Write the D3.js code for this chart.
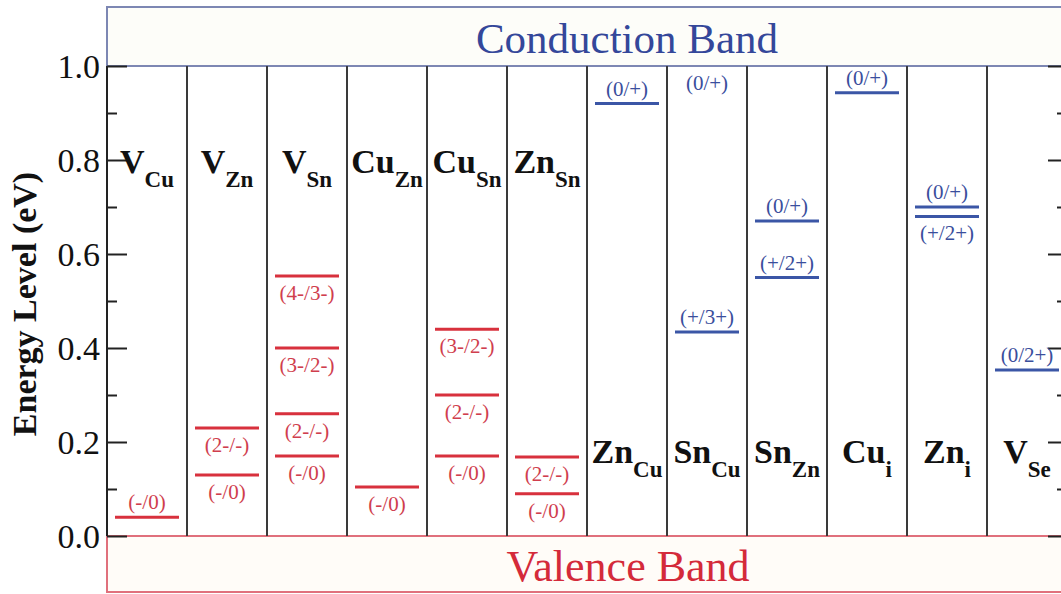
<!DOCTYPE html>
<html>
<head>
<meta charset="utf-8">
<script src="https://cdn.jsdelivr.net/npm/d3@7"></script>
<style>
  html, body { margin: 0; padding: 0; background: #ffffff; }
  svg { display: block; }
</style>
</head>
<body>
<svg id="chart" width="1061" height="594" font-family="'Liberation Serif', 'Times New Roman', 'DejaVu Serif', serif"></svg>
<script>
// ---------------- data ----------------
const defectIds   = ["V_Cu","V_Zn","V_Sn","Cu_Zn","Cu_Sn","Zn_Sn","Zn_Cu","Sn_Cu","Sn_Zn","Cu_i","Zn_i","V_Se"];
const defectMain  = ["V","V","V","Cu","Cu","Zn","Zn","Sn","Sn","Cu","Zn","V"];
const defectSub   = ["Cu","Zn","Sn","Zn","Sn","Sn","Cu","Cu","Zn","i","i","Se"];
const defectType  = ["acceptor","acceptor","acceptor","acceptor","acceptor","acceptor",
                     "donor","donor","donor","donor","donor","donor"];

const levelDefect = ["V_Cu","V_Zn","V_Zn","V_Sn","V_Sn","V_Sn","V_Sn","Cu_Zn",
                     "Cu_Sn","Cu_Sn","Cu_Sn","Zn_Sn","Zn_Sn",
                     "Zn_Cu","Sn_Cu","Sn_Cu","Sn_Zn","Sn_Zn","Cu_i","Zn_i","Zn_i","V_Se"];
const levelEnergy = [0.04, 0.23, 0.13, 0.553, 0.40, 0.26, 0.17, 0.104,
                     0.44, 0.30, 0.17, 0.168, 0.09,
                     0.92, 1.00, 0.434, 0.67, 0.55, 0.943, 0.70, 0.68, 0.353];
const levelLabel  = ["(-/0)","(2-/-)","(-/0)","(4-/3-)","(3-/2-)","(2-/-)","(-/0)","(-/0)",
                     "(3-/2-)","(2-/-)","(-/0)","(2-/-)","(-/0)",
                     "(0/+)","(0/+)","(+/3+)","(0/+)","(+/2+)","(0/+)","(0/+)","(+/2+)","(0/2+)"];
const levelSide   = ["above","below","below","below","below","below","below","below",
                     "below","below","below","below","below",
                     "above","below","above","above","above","above","above","below","above"];

const yTicksMajor = [0.0, 0.2, 0.4, 0.6, 0.8, 1.0];
const yTicksMinor = [0.1, 0.3, 0.5, 0.7, 0.9];
const yTitle = "Energy Level (eV)";
const cbLabel = "Conduction Band";
const vbLabel = "Valence Band";

// ---------------- layout ----------------
const FONT = "'Liberation Serif', 'Times New Roman', 'DejaVu Serif', serif";
const svg = d3.select("#chart");
const left = 107, colW = 80;
const yTop = 66, yBot = 536;
const right = left + colW * defectIds.length;

const x = d3.scaleBand().domain(defectIds).range([left, right]).padding(0);
const y = d3.scaleLinear().domain([0, 1]).range([yBot, yTop]);

const RED = "#d8313d", RED_TXT = "#d03e4e";
const BLUE = "#3b56a6", BLUE_TXT = "#3a4e9c";

svg.append("defs").append("clipPath").attr("id", "plotClip")
  .append("rect").attr("x", left).attr("y", yTop + 2).attr("width", right - left).attr("height", yBot - yTop - 4);

// band boxes
svg.append("rect").attr("x", left).attr("y", 7).attr("width", right - left + 20).attr("height", yTop - 7)
  .attr("fill", "#fdfdf9").attr("stroke", "#7d87b3").attr("stroke-width", 2);
svg.append("rect").attr("x", left).attr("y", yBot).attr("width", right - left + 20).attr("height", 592 - yBot)
  .attr("fill", "#fffcf8").attr("stroke", "#e0707c").attr("stroke-width", 2);

svg.append("text").attr("x", 627).attr("y", 53).attr("text-anchor", "middle").attr("font-family", FONT)
  .attr("font-size", 43).attr("fill", "#34479a").text(cbLabel);
svg.append("text").attr("x", 628).attr("y", 581).attr("text-anchor", "middle").attr("font-family", FONT)
  .attr("font-size", 44).attr("fill", "#d42a3a").text(vbLabel);

// column separators
svg.append("g").selectAll("line").data(defectIds.slice(1)).join("line")
  .attr("x1", d => x(d)).attr("x2", d => x(d))
  .attr("y1", yTop).attr("y2", yBot)
  .attr("stroke", "#3a3a3a").attr("stroke-width", 2);

// left axis
const axL = d3.axisRight(y).tickValues(yTicksMajor).tickSize(20).tickFormat("");
const gL = svg.append("g").attr("transform", `translate(${left},0)`).call(axL);
gL.select(".domain").remove();
gL.selectAll(".tick line").attr("stroke", "#222").attr("stroke-width", 2);
const axLm = d3.axisRight(y).tickValues(yTicksMinor).tickSize(10).tickFormat("");
const gLm = svg.append("g").attr("transform", `translate(${left},0)`).call(axLm);
gLm.select(".domain").remove();
gLm.selectAll(".tick line").attr("stroke", "#222").attr("stroke-width", 2);
svg.append("line").attr("x1", left).attr("x2", left).attr("y1", yTop).attr("y2", yBot)
  .attr("stroke", "#222").attr("stroke-width", 2);

// right axis (mirrored)
const axR = d3.axisLeft(y).tickValues(yTicksMajor).tickSize(19).tickFormat("");
const gR = svg.append("g").attr("transform", `translate(${right},0)`).call(axR);
gR.select(".domain").remove();
gR.selectAll(".tick line").attr("stroke", "#222").attr("stroke-width", 2);
const axRm = d3.axisLeft(y).tickValues(yTicksMinor).tickSize(10).tickFormat("");
const gRm = svg.append("g").attr("transform", `translate(${right},0)`).call(axRm);
gRm.select(".domain").remove();
gRm.selectAll(".tick line").attr("stroke", "#222").attr("stroke-width", 2);

// tick labels
svg.append("g").selectAll("text").data(yTicksMajor).join("text")
  .attr("x", 100).attr("y", d => y(d)).attr("dy", "0.35em").attr("font-family", FONT)
  .attr("text-anchor", "end").attr("font-size", 34).attr("fill", "#111")
  .text(d3.format(".1f"));

// y title
svg.append("text").attr("transform", `translate(36,304) rotate(-90)`).attr("font-family", FONT)
  .attr("text-anchor", "middle").attr("font-size", 34).attr("font-weight", "bold")
  .attr("fill", "#111").text(yTitle);

// defect names
const nameG = svg.append("g");
defectIds.forEach((id, i) => {
  const top = defectType[i] === "acceptor";
  const t = nameG.append("text")
    .attr("x", x(id) + x.bandwidth() / 2)
    .attr("y", top ? 173 : 463).attr("font-family", FONT)
    .attr("text-anchor", "middle").attr("font-weight", "bold").attr("fill", "#111");
  t.append("tspan").attr("font-size", 34).text(defectMain[i]);
  t.append("tspan").attr("font-size", 23).attr("dy", 14).text(defectSub[i]);
});

// levels
const levels = levelDefect.map((d, i) => ({
  defect: d, e: levelEnergy[i], label: levelLabel[i], side: levelSide[i],
  type: defectType[defectIds.indexOf(d)]
}));
const lg = svg.append("g");
lg.append("g").attr("clip-path", "url(#plotClip)").selectAll("line").data(levels).join("line")
  .attr("x1", d => x(d.defect) + 8).attr("x2", d => x(d.defect) + 72)
  .attr("y1", d => y(d.e)).attr("y2", d => y(d.e))
  .attr("stroke", d => d.type === "acceptor" ? RED : BLUE).attr("stroke-width", 3);
lg.selectAll("text").data(levels).join("text")
  .attr("x", d => x(d.defect) + 40)
  .attr("y", d => y(d.e) + (d.side === "above" ? -8 : 24))
  .attr("text-anchor", "middle").attr("font-size", 21).attr("font-family", FONT)
  .attr("fill", d => d.type === "acceptor" ? RED_TXT : BLUE_TXT)
  .text(d => d.label);
</script>
</body>
</html>
